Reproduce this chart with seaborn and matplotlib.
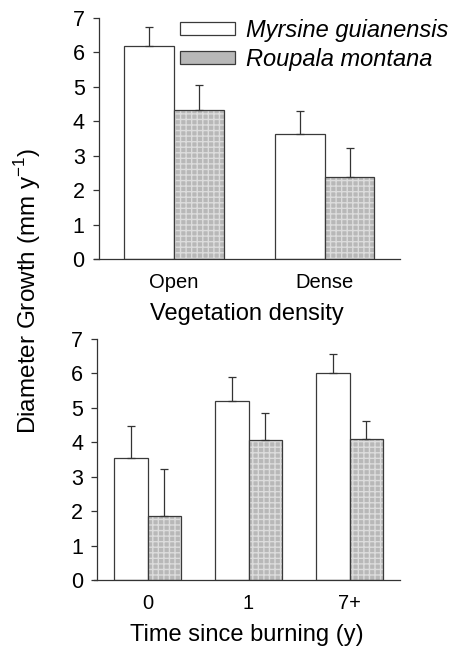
import numpy as np
import pandas as pd
import matplotlib
matplotlib.use("Agg")
import matplotlib.pyplot as plt
from matplotlib.patches import Patch
from matplotlib.container import BarContainer
import seaborn as sns

# ---- data ----
species = ["Myrsine guianensis", "Roupala montana"]

veg_categories = ["Open", "Dense"]
veg_myrsine = [6.2, 3.62]
veg_myrsine_se = [0.55, 0.68]
veg_roupala = [4.33, 2.37]
veg_roupala_se = [0.72, 0.85]

fire_categories = ["0", "1", "7+"]
fire_myrsine = [3.53, 5.2, 6.02]
fire_myrsine_se = [0.94, 0.70, 0.53]
fire_roupala = [1.87, 4.07, 4.10]
fire_roupala_se = [1.36, 0.78, 0.53]

y_ticks = [0, 1, 2, 3, 4, 5, 6, 7]

sns.set_style("ticks")
plt.rcParams["font.family"] = ["Liberation Sans", "DejaVu Sans"]
plt.rcParams["text.color"] = "black"
plt.rcParams["axes.labelcolor"] = "black"
plt.rcParams["xtick.labelcolor"] = "black"
plt.rcParams["ytick.labelcolor"] = "black"

WHITE = "white"
GRAY = "#b8b8b8"
HATCH = "#dcdcdc"
EDGE = "#3a3a3a"
palette = {species[0]: WHITE, species[1]: GRAY}

fig = plt.figure(figsize=(4.53, 6.5), dpi=100)
ax1 = fig.add_axes([0.2075, 0.6015, 0.883 - 0.2075, 0.9723 - 0.6015])
ax2 = fig.add_axes([0.2075, 0.1077, 0.883 - 0.2075, 0.4785 - 0.1077])


def make_df(cats, a, b, sa, sb):
    return pd.DataFrame({
        "cat": list(cats) * 2,
        "species": [species[0]] * len(cats) + [species[1]] * len(cats),
        "value": list(a) + list(b),
        "se": list(sa) + list(sb),
    })


def draw(ax, cats, a, b, sa, sb, xlabel):
    df = make_df(cats, a, b, sa, sb)
    sns.barplot(data=df, x="cat", y="value", hue="species", order=cats,
                hue_order=species, palette=palette, width=0.66, gap=0,
                errorbar=None, edgecolor=EDGE, linewidth=0.9,
                legend=False, ax=ax, saturation=1)
    errs = [sa, sb]
    bars = [c for c in ax.containers if isinstance(c, BarContainer)]
    for k, cont in enumerate(bars):
        for i, rect in enumerate(cont.patches):
            x = rect.get_x() + rect.get_width() / 2
            h = rect.get_height()
            ax.errorbar([x], [h], yerr=[[0], [errs[k][i]]], fmt="none",
                        ecolor="#333333", elinewidth=0.9, capsize=3,
                        capthick=0.9, zorder=1)
            if k == 1:
                rect.set_hatch("+++")
                try:
                    rect._hatch_color = matplotlib.colors.to_rgba(HATCH)
                except Exception:
                    pass
    n = len(cats)
    ax.set_xlim(-0.53, n - 0.5)
    ax.set_ylim(0, 7)
    ax.set_yticks(y_ticks)
    ax.spines["left"].set_position(("data", -0.5))
    ax.spines["left"].set_bounds(0, 7)
    for s in ["top", "right"]:
        ax.spines[s].set_visible(False)
    for s in ["left", "bottom"]:
        ax.spines[s].set_color("#333333")
        ax.spines[s].set_linewidth(0.9)
    ax.tick_params(axis="y", direction="out", length=4, width=0.9,
                   color="#333333", labelsize=15.5, pad=6)
    ax.tick_params(axis="x", length=0, labelsize=14.5, pad=10)
    ax.set_xlabel(xlabel, fontsize=17, labelpad=8)
    ax.set_ylabel("")


draw(ax1, veg_categories, veg_myrsine, veg_roupala, veg_myrsine_se,
     veg_roupala_se, "Vegetation density")
draw(ax2, fire_categories, fire_myrsine, fire_roupala, fire_myrsine_se,
     fire_roupala_se, "Time since burning (y)")

h1 = Patch(facecolor=WHITE, edgecolor=EDGE, linewidth=0.9)
h2 = Patch(facecolor=GRAY, edgecolor=EDGE, linewidth=0.9)
leg = ax1.legend([h1, h2], species, loc="upper left",
                 bbox_to_anchor=(0.282, 0.995), frameon=False,
                 prop={"size": 17, "style": "italic"},
                 handlelength=2.3, handleheight=0.45, handletextpad=0.5,
                 labelspacing=0.25, borderpad=0, borderaxespad=0)
for t in leg.get_texts():
    t.set_color("black")

fig.text(0.06, 0.552, "Diameter Growth (mm y$^{\\mathregular{-1}}$)",
         rotation=90, ha="center", va="center", fontsize=17.5)

fig.savefig("out.png", dpi=100)
